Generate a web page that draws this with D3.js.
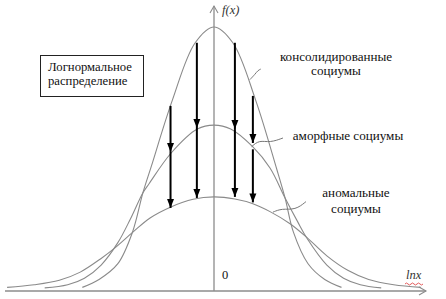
<!DOCTYPE html>
<html lang="ru">
<head>
  <meta charset="UTF-8">
  <script src="https://d3js.org/d3.v7.min.js"></script>
  <title>Логнормальное распределение</title>
  <style>
    body { margin: 0; background: #fff; overflow: hidden; }
  </style>
</head>
<body>
<script>
  // curves (x = lnx, y = f(x), peak of the tallest = 1)
  const consolidatedX = [-3.15, -2.75, -2.3, -1.95, -1.7, -1.5, -1.0, -0.45, 0, 0.45, 1.0, 1.5, 1.7, 1.9, 2.25, 2.65, 3.05];
  const consolidatedY = [0.01, 0.04, 0.10, 0.22, 0.37, 0.47, 0.72, 0.94, 1.0, 0.94, 0.72, 0.46, 0.35, 0.22, 0.10, 0.04, 0.01];

  const amorphousX = [-4.05, -3.5, -3.1, -2.7, -2.3, -2.0, -1.7, -1.55, -1.03, -0.4, 0, 0.4, 0.93, 1.34, 1.7, 2.0, 2.22, 2.7, 3.1, 3.5, 4.0];
  const amorphousY = [0.008, 0.02, 0.045, 0.095, 0.18, 0.27, 0.37, 0.405, 0.52, 0.612, 0.627, 0.612, 0.544, 0.464, 0.35, 0.26, 0.198, 0.095, 0.045, 0.02, 0.008];

  const anomalousX = [-4.95, -4.3, -3.7, -3.2, -2.7, -2.37, -1.94, -1.53, -1.03, -0.5, 0, 0.5, 0.93, 1.34, 1.82, 2.22, 2.7, 3.2, 3.7, 4.3, 4.95];
  const anomalousY = [0.01, 0.02, 0.037, 0.068, 0.12, 0.16, 0.22, 0.274, 0.316, 0.345, 0.354, 0.346, 0.328, 0.298, 0.252, 0.2, 0.13, 0.075, 0.04, 0.02, 0.01];

  // arrows: consolidated -> amorphous -> anomalous
  const arrowX = [-1.04, -0.41, 0.5, 0.93];
  const upperFrom = [0.70, 0.94, 0.94, 0.738];
  const upperTo = [0.525, 0.616, 0.612, 0.559];
  const lowerFrom = [0.525, 0.616, 0.612, 0.535];
  const lowerTo = [0.312, 0.35, 0.354, 0.333];

  const labels = ["консолидированные", "социумы", "аморфные социумы", "аномальные", "социумы"];
  const boxLines = ["Логнормальное", "распределение"];

  const width = 446, height = 299;
  const serif = "'Liberation Serif', 'Times New Roman', 'DejaVu Serif', serif";

  const svg = d3.select("body").append("svg")
    .attr("width", width)
    .attr("height", height);

  const x = d3.scaleLinear().domain([-5, 5]).range([5, 423]);
  const y = d3.scaleLinear().domain([0, 1]).range([290, 27]);

  const axisColor = "#8c8c8c";
  const curveColor = "#8a8a8a";

  // axes
  const x0 = x(0), yBase = 291;
  svg.append("line").attr("x1", 5).attr("x2", 426).attr("y1", yBase).attr("y2", yBase)
    .attr("stroke", axisColor).attr("stroke-width", 1.3);
  svg.append("path").attr("d", `M419,${yBase - 4}L426,${yBase}L419,${yBase + 4}`)
    .attr("fill", "none").attr("stroke", axisColor).attr("stroke-width", 1.1);
  svg.append("line").attr("x1", x0).attr("x2", x0).attr("y1", yBase).attr("y2", 6)
    .attr("stroke", axisColor).attr("stroke-width", 1.3);
  svg.append("path").attr("d", `M${x0 - 4},13L${x0},6L${x0 + 4},13`)
    .attr("fill", "none").attr("stroke", axisColor).attr("stroke-width", 1.1);

  // curves
  const line = d3.line().x(d => x(d[0])).y(d => y(d[1])).curve(d3.curveCatmullRom.alpha(0.5));
  [[consolidatedX, consolidatedY], [amorphousX, amorphousY], [anomalousX, anomalousY]].forEach(([xs, ys]) => {
    svg.append("path")
      .datum(d3.zip(xs, ys))
      .attr("d", line)
      .attr("fill", "none")
      .attr("stroke", curveColor)
      .attr("stroke-width", 1.1);
  });

  // arrowhead
  svg.append("defs").append("marker")
    .attr("id", "head")
    .attr("markerUnits", "userSpaceOnUse")
    .attr("viewBox", "0 -4 9 8")
    .attr("refX", 9).attr("refY", 0)
    .attr("markerWidth", 9).attr("markerHeight", 8)
    .attr("orient", "auto")
    .append("path")
    .attr("d", "M0,-3.5L9,0L0,3.5Z")
    .attr("fill", "#000");

  const arrows = arrowX.flatMap((ax, i) => [
    { x: ax, from: upperFrom[i], to: upperTo[i] },
    { x: ax, from: lowerFrom[i], to: lowerTo[i] }
  ]);
  svg.append("g").selectAll("line")
    .data(arrows)
    .enter().append("line")
    .attr("x1", d => x(d.x)).attr("x2", d => x(d.x))
    .attr("y1", d => y(d.from)).attr("y2", d => y(d.to))
    .attr("stroke", "#000")
    .attr("stroke-width", 2)
    .attr("marker-end", "url(#head)");

  // axis labels
  svg.append("text").attr("x", 222).attr("y", 14).attr("font-size", 12.5)
    .attr("font-family", serif).attr("font-style", "italic").attr("fill", "#333").text("f(x)");
  svg.append("text").attr("x", 222).attr("y", 279).attr("font-size", 12.5)
    .attr("font-family", serif).attr("fill", "#111").text("0");
  svg.append("text").attr("x", 406).attr("y", 279).attr("font-size", 12.5)
    .attr("font-family", serif).attr("font-style", "italic").attr("fill", "#333").text("lnx");
  svg.append("path").attr("d", "M405,284q1.5,-2 3,0t3,0t3,0t3,0t3,0t3,0")
    .attr("fill", "none").attr("stroke", "#d33").attr("stroke-width", 0.8);

  // box
  svg.append("rect").attr("x", 40.5).attr("y", 55.5).attr("width", 103).attr("height", 41)
    .attr("fill", "#fff").attr("stroke", "#222").attr("stroke-width", 1);
  svg.selectAll(".box-line").data(boxLines).enter().append("text")
    .attr("class", "box-line")
    .attr("x", 48).attr("y", (d, i) => 71 + i * 14)
    .attr("font-family", serif)
    .attr("font-size", 12.7)
    .attr("fill", "#111")
    .text(d => d);

  // curve labels
  const labelPos = [[336, 61], [336, 75], [348, 140], [356, 197], [356, 213]];
  svg.selectAll(".lbl").data(labels).enter().append("text")
    .attr("class", "lbl")
    .attr("x", (d, i) => labelPos[i][0]).attr("y", (d, i) => labelPos[i][1])
    .attr("text-anchor", "middle")
    .attr("font-family", serif)
    .attr("font-size", 13.1)
    .attr("fill", "#111")
    .text(d => d);

  // small tilde connectors from label to curve (lnx, f(x))
  const connectors = [
    [[0.86, 0.80], [0.98, 0.82], [1.05, 0.835], [1.12, 0.84]],
    [[0.90, 0.545], [1.08, 0.57], [1.34, 0.56], [1.65, 0.578]],
    [[1.41, 0.296], [1.62, 0.31], [1.95, 0.304], [2.2, 0.336]]
  ];
  const conLine = d3.line().x(d => x(d[0])).y(d => y(d[1])).curve(d3.curveBasis);
  connectors.forEach(c => {
    svg.append("path").attr("d", conLine(c))
      .attr("fill", "none").attr("stroke", "#777").attr("stroke-width", 1);
  });
</script>
</body>
</html>
